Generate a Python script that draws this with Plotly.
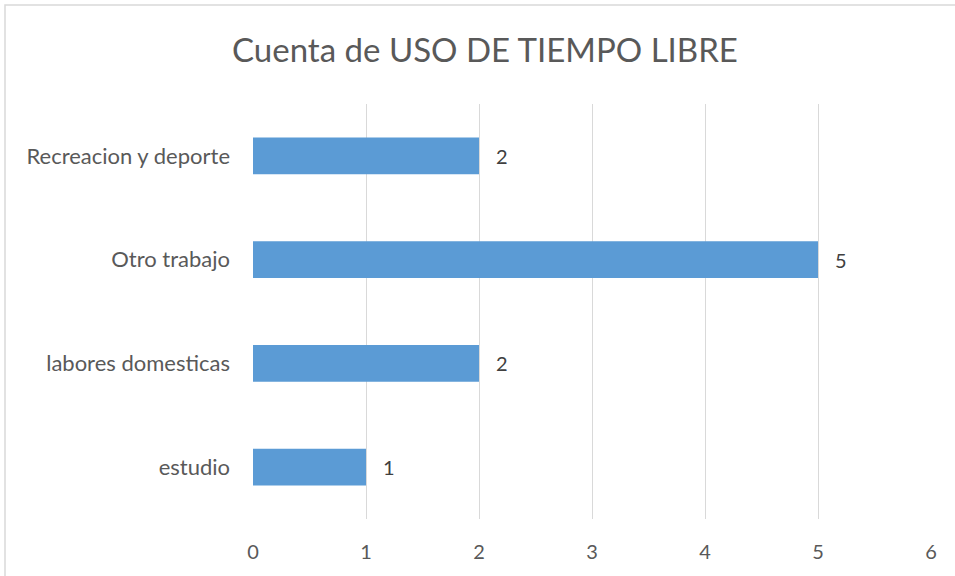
import plotly.graph_objects as go

categories = ["estudio", "labores domesticas", "Otro trabajo", "Recreacion y deporte"]
values = [1, 2, 5, 2]
x_ticks = [0, 1, 2, 3, 4, 5, 6]

W, H = 955, 576
L, R, T, B = 253, 24, 104, 57
pw, ph = W - L - R, H - T - B

fig = go.Figure(go.Bar(
    y=categories, x=values, orientation="h",
    marker=dict(color="#5B9BD5", line=dict(width=0)),
    width=0.355,
))

for c, v in zip(categories, values):
    fig.add_annotation(x=v, y=c, text=str(v), showarrow=False, xanchor="center",
                       xshift=23, font=dict(family="Lato", size=20, color="#404040"))

fig.update_layout(
    width=W, height=H,
    margin=dict(l=L, r=R, t=T, b=B),
    paper_bgcolor="white", plot_bgcolor="white",
    showlegend=False,
    title=dict(text="Cuenta de USO DE TIEMPO LIBRE", x=(485 - L) / pw, xref="paper",
               xanchor="center", y=1 - 50 / H, yanchor="middle",
               font=dict(family="Lato", size=33, color="#595959")),
    xaxis=dict(range=[0, 6], tickvals=x_ticks, showgrid=True, gridcolor="#D9D9D9",
               gridwidth=1, zeroline=False, showline=False, ticks="",
               ticklabelstandoff=19,
               tickfont=dict(family="Lato", size=20, color="#595959"), fixedrange=True),
    yaxis=dict(showgrid=False, zeroline=False, showline=False, ticks="",
               ticklabelstandoff=22, range=[-0.5, 3.5],
               tickfont=dict(family="Lato", size=22, color="#595959"), fixedrange=True),
    shapes=[dict(type="rect", xref="paper", yref="paper",
                 x0=(5 - L) / pw, x1=(W + 5 - L) / pw,
                 y0=-(H + 5 - T - ph) / ph, y1=1 + (T - 5) / ph,
                 line=dict(color="#D9D9D9", width=1.5), layer="below")],
)

fig.write_html("out.html", config={"displayModeBar": False},
               post_script="document.body.style.margin='0';document.body.style.overflow='hidden';")
